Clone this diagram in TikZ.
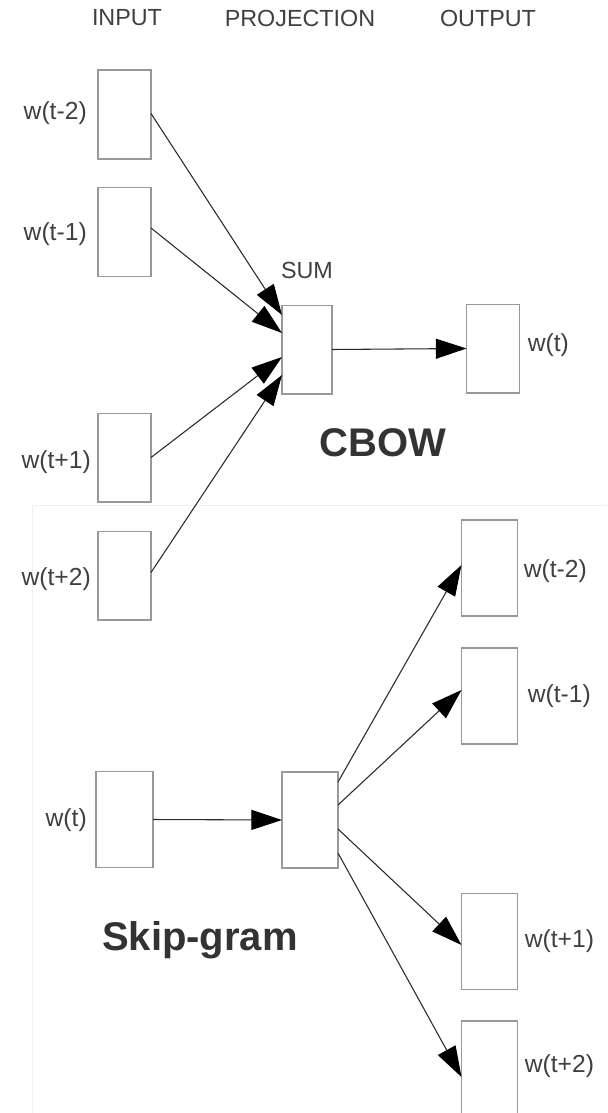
\documentclass[tikz,border=0pt]{standalone}
\usepackage{fontspec}
\setmainfont{Liberation Sans}
\usetikzlibrary{arrows.meta,calc}
\definecolor{txt}{HTML}{404040}
\definecolor{ttl}{HTML}{333333}
\definecolor{boxc}{HTML}{999999}
\definecolor{linec}{HTML}{2A2A2A}
\definecolor{faint}{HTML}{F0F0F0}
\tikzset{
  vecbox/.style={draw=boxc, line width=1pt, rectangle, inner sep=0pt, outer sep=0pt, fill=white},
  topbox/.style={vecbox, minimum width=39.75pt, minimum height=66.5pt},
  skbox/.style={vecbox, minimum width=42pt, minimum height=72pt},
  lab/.style={text=txt, font=\fontsize{18.5}{20}\selectfont, inner sep=0pt},
  head/.style={text=txt, font=\fontsize{17.5}{20}\selectfont, inner sep=0pt},
  title/.style={text=ttl, font=\fontsize{30}{34}\selectfont\bfseries, inner sep=0pt},
  conn/.style={draw=linec, line width=0.8pt, -{Triangle[length=23pt,width=15pt,fill=black,color=black]}}
}
\begin{document}
\begin{tikzpicture}[x=0.75pt,y=-0.75pt]
\useasboundingbox (0,0) rectangle (607,1113);
\fill[white] (0,0) rectangle (607,1113);
% faint panel border of the lower screenshot
\draw[faint, line width=0.75pt] (32,505) -- (607,505);
\draw[faint, line width=0.75pt] (32,505) -- (32,1113);

% headers
\node[head] (hin) at (127,18) {INPUT};
\node[head] (hproj) at (300,18) {PROJECTION};
\node[head] (hout) at (488,18) {OUTPUT};

% ---------------- CBOW ----------------
\node[topbox] (i1) at (124.5,114.5) {};
\node[topbox] (i2) at (124.5,232) {};
\node[topbox] (i3) at (124.5,457.5) {};
\node[topbox] (i4) at (124.5,575.5) {};
\node[topbox, minimum width=37.5pt] (sum) at (307,349.5) {};
\node[topbox] (cout) at (493,348.5) {};

\node[lab, anchor=east] (li1) at ($(i1.west)+(-11,-1)$) {w(t-2)};
\node[lab, anchor=east] (li2) at ($(i2.west)+(-11,2)$) {w(t-1)};
\node[lab, anchor=east] (li3) at ($(i3.west)+(-7,5)$) {w(t+1)};
\node[lab, anchor=east] (li4) at ($(i4.west)+(-7,4)$) {w(t+2)};
\node[lab, anchor=west] (lcout) at ($(cout.east)+(8,-3)$) {w(t)};
\node[head] (lsum) at (307,270) {SUM};
\node[title] (cbow) at (383,443) {CBOW};

\draw[conn] ($(i1.east)+(0,-1)$) -- ($(sum.west)+(0,-34.5)$);
\draw[conn] ($(i2.east)+(0,-4)$) -- ($(sum.west)+(0,-16.5)$);
\draw[conn] (i3.east) -- ($(sum.west)+(0,7.5)$);
\draw[conn] ($(i4.east)+(0,-3)$) -- ($(sum.west)+(0,25.5)$);
\draw[conn] (sum.east) -- (cout.west);

% ---------------- Skip-gram ----------------
\node[skbox, minimum width=42.75pt] (sin) at (124.5,819.5) {};
\node[skbox] (proj) at (310,820) {};
\node[skbox] (o1) at (489.5,568) {};
\node[skbox] (o2) at (489.5,696) {};
\node[skbox] (o3) at (489.5,941.5) {};
\node[skbox] (o4) at (489.5,1069) {};

\node[lab, anchor=east] (lsin) at ($(sin.west)+(-9,1)$) {w(t)};
\node[lab, anchor=west] (lo1) at ($(o1.east)+(6,3)$) {w(t-2)};
\node[lab, anchor=west] (lo2) at ($(o2.east)+(10,0)$) {w(t-1)};
\node[lab, anchor=west] (lo3) at ($(o3.east)+(7,0)$) {w(t+1)};
\node[lab, anchor=west] (lo4) at ($(o4.east)+(7,-3)$) {w(t+2)};
\node[title] (skip) at (200,940) {Skip-gram};

\draw[conn] (sin.east) -- (proj.west);
\draw[conn] ($(proj.east)+(0,-38)$) -- ($(o1.west)+(0,-3)$);
\draw[conn] ($(proj.east)+(0,-15)$) -- ($(o2.west)+(0,-6)$);
\draw[conn] ($(proj.east)+(0,9)$) -- ($(o3.west)+(0,3.5)$);
\draw[conn] ($(proj.east)+(0,33)$) -- ($(o4.west)+(0,8)$);
\end{tikzpicture}
\end{document}
